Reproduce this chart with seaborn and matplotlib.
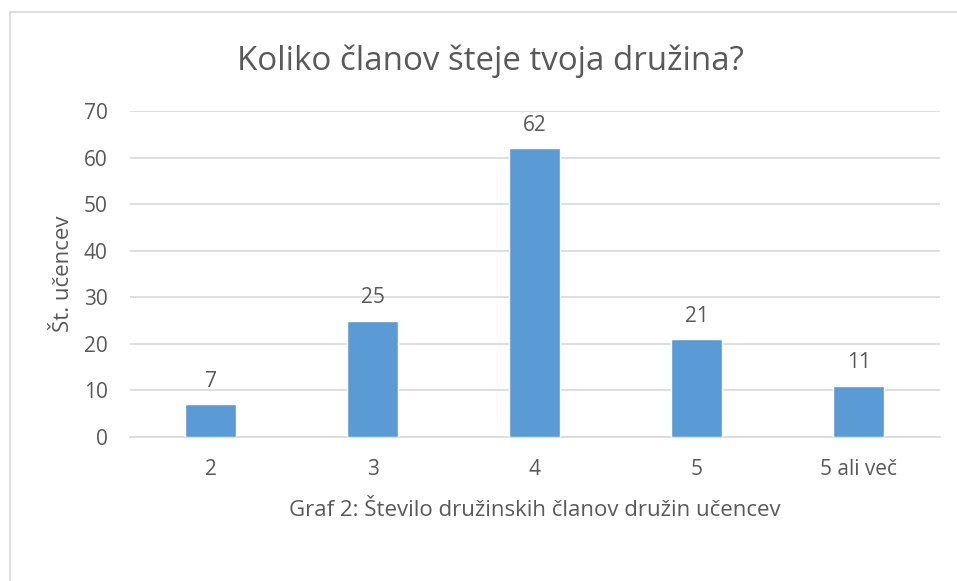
import matplotlib.pyplot as plt
import matplotlib.patches as mpatches
import pandas as pd
import seaborn as sns

# Data
categories = ['2', '3', '4', '5', '5 ali več']
counts = [7, 25, 62, 21, 11]
yticks = [0, 10, 20, 30, 40, 50, 60, 70]

sns.set_theme(style='white')
plt.rcParams['font.family'] = ['Open Sans', 'DejaVu Sans']

text_color = '#595959'
grid_color = '#D9D9D9'
bar_color = '#5B9BD5'

df = pd.DataFrame({'cat': categories, 'n': counts})

fig = plt.figure(figsize=(9.57, 5.81), dpi=100)
ax = fig.add_axes([0.1358, 0.2478, 0.8464, 0.5611])

sns.barplot(data=df, x='cat', y='n', color=bar_color, width=0.315,
            saturation=1, ax=ax, zorder=3)

ax.set_ylim(0, 70)
ax.set_xlim(-0.5, len(categories) - 0.5)
ax.set_yticks(yticks)
ax.yaxis.grid(True, color=grid_color, linewidth=1.2, zorder=0)
ax.set_axisbelow(True)
for s in ['top', 'right', 'left']:
    ax.spines[s].set_visible(False)
ax.spines['bottom'].set_color(grid_color)
ax.spines['bottom'].set_linewidth(1.2)
ax.tick_params(axis='both', length=0, labelsize=15, colors=text_color)
ax.tick_params(axis='x', pad=16)
ax.tick_params(axis='y', pad=16)

for c in ax.containers:
    ax.bar_label(c, padding=9, fontsize=15, color=text_color)

ax.set_xlabel('Graf 2: Število družinskih članov družin učencev',
              fontsize=16, color=text_color, labelpad=14)
ax.set_ylabel('Št. učencev', fontsize=16, color=text_color, labelpad=7)
fig.text(0.512, 0.894, 'Koliko članov šteje tvoja družina?', ha='center', va='center',
         fontsize=23.8, color=text_color)

# chart area frame (cut off at right and bottom)
frame = mpatches.Rectangle((9.5 / 957, -0.1), 1.2, 1.1 - 12.5 / 581, transform=fig.transFigure,
                           fill=False, edgecolor='#D9D9D9', linewidth=1.2)
fig.patches.append(frame)

fig.savefig('out.png', dpi=100)
